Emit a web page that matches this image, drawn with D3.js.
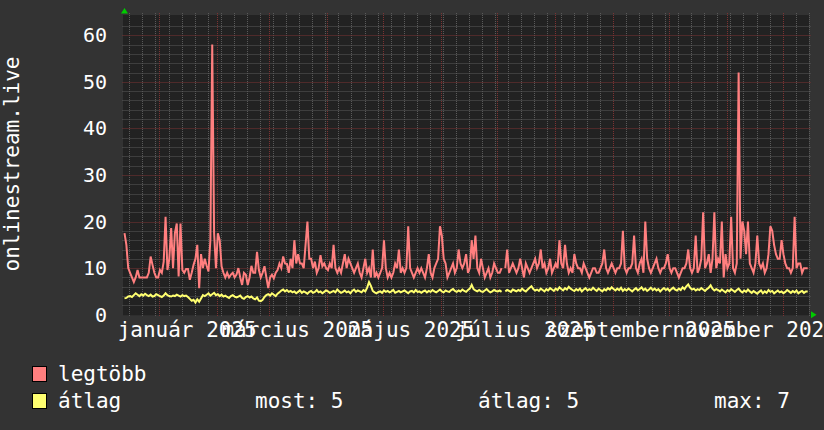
<!DOCTYPE html>
<html><head><meta charset="utf-8">
<script src="https://cdn.jsdelivr.net/npm/d3@7"></script>
<style>html,body{margin:0;padding:0;background:#333333;overflow:hidden}svg{display:block}</style>
</head><body><svg id="c" width="824" height="430"></svg>
<script>
// ---- data ----
const startDate = "2024-12-13T10:00:00Z";
const legtobb = [
17.5,15,10,9,8,7,8,9.6,8,8, 8,8,8,9,12.5,10.7,9,8,8,9.6,
9,11.4,21,9.6,12,18.6,10,17.5,19.6,8.2, 19.6,9.6,9,9.8,9.8,7.5,9,10.7,12,15,
5.7,13,10,12,10.5,9.3,16,58,17.5,10, 17.5,16,10.4,9,8,9,8,8.6,9,8,
8.6,10,8,6.4,9,8.6,6.4,8,10.5,9, 9,13.5,9.6,8,9,10.4,8,5.7,8,8.6,
7.8,9,9.6,11,10,12.5,11,10.9,9,12, 10,16,11,13,11,11,10,15,20,12,
12,10,11.4,9,10,12.8,10.4,11,10,9.6, 11,10,15,10,9,10,9,11,13,10,
12,11,10,9,10,11,9,8,10,12, 9,10,8,14,8,9,8,9,10,16,
10,8,9,8,9,11,10,14,9,10, 9,10,19,10,9,8,9,10,9,10,
9,8,10,13,9,8,10,11,12,19, 17,12,11,8,9,10,11,9,10,14,
11,10,11,13,9,10,16,12,17,10, 9,12,10,8,9,10,8,9,11,10,
9,9,10,null,10,14,9,10,11,10, 9,10,12,10,8,11,10,9,10,11,
12,10,11,14,10,11,9,10,12,9, 10,11,10,16,11,10,15,11,9,10,
9,13,11,10,10,9,11,10,9,8, 9,10,10,9,9,10,11,14,10,9,
10,11,10,9,10,10,11,18,10,9, 10,10,11,17,10,9,11,12,9,20,
12,10,9,10,11,12,10,9,10,10, 11,13,10,9,10,10,9,8,9,10,
10,11,14,10,9,10,17,9,10,12, 22,10,11,13,9,12,22,10,12,11,
20,8,13,10,11,21,10,9,11,52, 12,20,18,13,20,11,10,9,11,17,
11,10,11,9,10,13,19,18,15,13, 12,12,16,13,11,10,10,9,10,21,
10,11,11,9,10,10,10
];
const atlag = [
3.5,3.6,3.9,4.0,3.8,4.2,4.6,4.3,4.0,4.4, 4.1,4.5,4.2,4.0,4.3,3.9,4.0,4.4,4.2,4.0,
3.8,4.1,4.6,4.2,4.0,3.9,4.1,4.0,4.3,4.1, 3.9,4.2,4.0,4.1,3.8,3.4,3.0,3.2,2.6,3.3,
2.8,3.5,4.2,4.0,4.3,4.6,4.1,4.4,4.7,4.2, 4.4,4.0,4.3,3.9,4.1,3.8,3.6,4.0,4.2,3.9,
3.7,3.9,4.1,3.6,3.4,3.8,4.0,3.7,3.9,3.5, 3.3,3.7,3.0,2.9,3.2,3.8,4.2,4.4,4.1,4.6,
4.3,4.0,4.5,4.8,5.2,5.4,5.0,5.3,4.9,5.1, 4.8,5.0,4.6,4.9,5.2,4.7,5.0,4.8,4.5,4.9,
5.1,4.7,4.9,5.3,4.8,5.0,4.6,4.9,5.2,5.0, 4.7,4.9,5.1,4.8,5.4,5.0,4.7,4.9,5.2,4.8,
5.0,4.6,5.1,5.4,4.9,5.2,5.0,4.8,5.3,5.0, 5.8,7.0,6.2,5.1,4.8,4.6,4.9,5.0,4.7,5.2,
4.9,5.1,4.8,5.0,5.3,4.7,4.9,5.1,4.8,5.0, 5.2,4.9,4.6,5.0,5.1,4.8,5.3,4.9,5.0,4.7,
5.0,5.2,4.8,5.1,4.9,5.3,5.0,4.8,5.1,5.4, 5.0,4.8,5.2,5.0,4.9,5.3,5.5,5.1,4.9,5.2,
5.0,5.4,5.1,4.9,5.3,5.6,6.4,5.5,5.2,5.0, 5.3,5.0,4.9,5.2,5.5,5.1,4.8,5.0,5.3,5.1,
5.0,5.2,4.9,null,5.0,5.3,5.1,4.9,5.4,5.2, 5.0,5.3,5.1,5.6,5.2,5.0,5.4,5.8,6.1,5.5,
5.2,5.4,5.1,5.6,5.3,5.0,5.5,5.2,5.7,5.4, 5.1,5.6,5.3,5.9,5.5,5.2,5.7,5.4,6.0,5.6,
5.3,5.1,5.5,5.2,5.6,5.0,5.4,5.7,5.2,5.5, 5.3,5.8,5.4,5.1,5.6,5.3,5.0,5.5,5.2,5.7,
5.4,5.9,5.5,5.2,5.6,5.3,5.8,5.1,5.5,5.2, 5.6,5.3,5.0,5.4,5.7,5.2,5.5,5.9,5.3,5.6,
5.1,5.4,5.8,5.3,5.6,5.2,5.5,5.0,5.4,5.7, 5.3,5.6,5.1,5.5,5.8,5.4,5.2,5.6,5.3,5.9,
5.5,6.1,6.5,5.8,5.4,5.6,5.2,5.5,5.3,5.7, 5.4,5.1,5.5,5.8,6.3,5.6,5.2,5.5,5.3,5.0,
5.4,5.1,4.8,5.3,5.0,5.5,5.2,4.9,5.3,5.6, 5.1,4.8,5.2,4.9,5.4,5.0,4.7,5.1,4.8,4.5,
4.9,5.2,4.6,5.0,4.7,5.3,4.9,5.1,4.6,4.9, 5.2,4.8,5.0,4.6,4.9,5.3,5.0,4.7,5.1,4.8,
5.2,4.6,4.9,5.1,4.7,5.0,5.0
];
const yTicks = [0,10,20,30,40,50,60];
const monthLabels = ["január 2025","március 2025","május 2025","július 2025","szeptember 2025","november 2025"];
const legendNames = ["legtöbb","átlag"];
const statLabels = ["most: 5","átlag: 5","max: 7"];
const yTitle = "onlinestream.live";

// ---- layout ----
const W=824,H=430;
const X0=124.5, X1=809, Y0=314.7, Y1=15;
const FONT="'DejaVu Sans Mono', monospace";
const C_RED="#ff7f7f", C_YEL="#ffff70";
const svg=d3.select("#c");
const DAY=86400000;
const t0=new Date(startDate);
const t1=new Date(t0.getTime()+366.7*DAY);
const x=d3.scaleUtc().domain([t0,t1]).range([X0,X1]);
const y=d3.scaleLinear().domain([0,(Y0-Y1)/((Y0-35.3)/60)]).range([Y0,Y1]);

svg.append("rect").attr("width",W).attr("height",H).attr("fill","#333333");
svg.append("rect").attr("x",123).attr("y",Y1).attr("width",X1-123).attr("height",Y0-Y1+0.5).attr("fill","#222222");

const g=svg.append("g");
// minor horizontal
const minorY=d3.range(2,64,2).filter(v=>v%10!==0);
g.selectAll(".mh").data(minorY).join("line")
 .attr("x1",X0-2).attr("x2",X1+2)
 .attr("y1",d=>Math.round(y(d))+0.5).attr("y2",d=>Math.round(y(d))+0.5)
 .attr("stroke","#5a5a5a").attr("stroke-dasharray","1,1");
// minor vertical (weekly)
const weeks=d3.utcMonday.range(t0,t1);
g.selectAll(".mv").data(weeks).join("line")
 .attr("x1",d=>Math.round(x(d))+0.5).attr("x2",d=>Math.round(x(d))+0.5)
 .attr("y1",Y1-2).attr("y2",Y0+2)
 .attr("stroke","#5a5a5a").attr("stroke-dasharray","1,1");
// major horizontal
g.selectAll(".Mh").data(yTicks.filter(v=>v>0)).join("line")
 .attr("x1",X0-2).attr("x2",X1+2)
 .attr("y1",d=>Math.round(y(d))+0.5).attr("y2",d=>Math.round(y(d))+0.5)
 .attr("stroke","#7d3232").attr("stroke-dasharray","1,1");
// major vertical (monthly)
const months=d3.utcMonth.range(t0,t1);
g.selectAll(".Mv").data(months).join("line")
 .attr("x1",d=>Math.round(x(d))+0.5).attr("x2",d=>Math.round(x(d))+0.5)
 .attr("y1",Y1-2).attr("y2",Y0+2)
 .attr("stroke","#7d3232").attr("stroke-dasharray","1,1");

// series
function pts(arr){return arr.map((v,i)=>({t:new Date(t0.getTime()+i*DAY),v}));}
const line=d3.line().defined(d=>d.v!==null).x(d=>x(d.t)).y(d=>y(d.v));
svg.append("path").datum(pts(legtobb)).attr("d",line).attr("fill","none")
 .attr("stroke",C_RED).attr("stroke-width",2).attr("stroke-linejoin","miter");
svg.append("path").datum(pts(atlag)).attr("d",line).attr("fill","none")
 .attr("stroke",C_YEL).attr("stroke-width",2);

// axes arrows
svg.append("path").attr("d",`M${X0-3.5},13.5L${X0+3.5},13.5L${X0},8Z`).attr("fill","#00cc00");
svg.append("path").attr("d",`M811,${Y0-3.5}L811,${Y0+3.5}L816.5,${Y0}Z`).attr("fill","#00cc00");

// y tick labels
svg.selectAll(".yl").data(yTicks).join("text")
 .attr("x",107).attr("y",d=>y(d)+7).attr("text-anchor","end")
 .attr("font-family",FONT).attr("font-size",20).attr("fill","#ffffff").text(d=>d);
// x labels (every 2nd month, centred mid-month)
const labMonths=d3.utcMonth.every(2).range(new Date("2025-01-01T00:00:00Z"),t1);
svg.selectAll(".xl").data(labMonths).join("text")
 .attr("x",d=>x(new Date(d.getTime()+15*DAY))).attr("y",337).attr("text-anchor","middle")
 .attr("font-family",FONT).attr("font-size",21).attr("fill","#ffffff")
 .text((d,i)=>monthLabels[i]);
// y title
svg.append("text").attr("transform","translate(18.5,164) rotate(-90)")
 .attr("text-anchor","middle").attr("font-family",FONT).attr("font-size",21)
 .attr("fill","#ffffff").text(yTitle);

// legend
const lg=svg.append("g");
[C_RED,C_YEL].forEach((c,i)=>{
  lg.append("rect").attr("x",32.5).attr("y",366.5+i*27).attr("width",14).attr("height",15)
   .attr("fill",c).attr("stroke","#000").attr("stroke-width",1);
  lg.append("text").attr("x",58).attr("y",381+i*27).attr("font-family",FONT).attr("font-size",21)
   .attr("fill","#fff").text(legendNames[i]);
});
const statX=[255,478,714];
statLabels.forEach((s,i)=>{
  lg.append("text").attr("x",statX[i]).attr("y",408).attr("font-family",FONT).attr("font-size",21)
   .attr("fill","#fff").text(s);
});
</script></body></html>
